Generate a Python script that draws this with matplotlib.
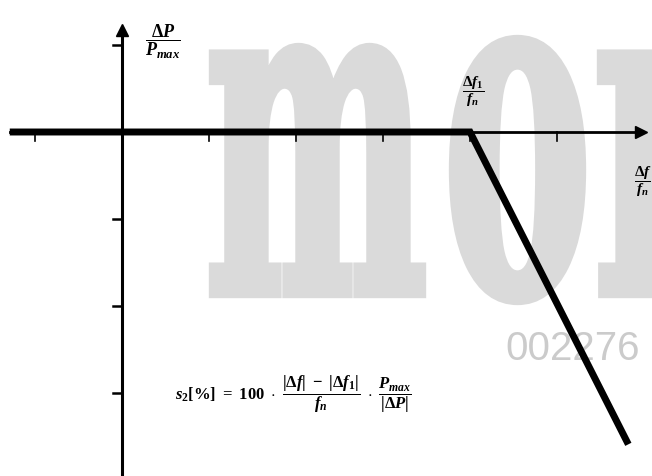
import matplotlib
matplotlib.use("Agg")
import matplotlib.pyplot as plt
from matplotlib.textpath import TextPath
from matplotlib.patches import PathPatch
from matplotlib.font_manager import FontProperties
from matplotlib.transforms import Affine2D

# Kennlinie: Leistungsaenderung ueber Frequenzabweichung (normiert)
kennlinie_x = [-1.29, 4.0, 5.82]
kennlinie_y = [0.0, 0.0, -3.59]
x_ticks = [-1, 1, 2, 3, 4, 5]
y_ticks = [1, -1, -2, -3]

plt.rcParams['mathtext.fontset'] = 'custom'
plt.rcParams['mathtext.rm'] = 'Liberation Serif:bold'
plt.rcParams['mathtext.it'] = 'Liberation Serif:italic:bold'
plt.rcParams['mathtext.bf'] = 'Liberation Serif:bold'

W, H = 652, 477
fig = plt.figure(figsize=(W / 100, H / 100), dpi=100)
ax = fig.add_axes([0, 0, 1, 1])
ax.patch.set_alpha(0)

# pixel -> data: Ursprung bei (122, 133), eine Einheit = 87 px
ox, oy, u = 122, 133, 87
ax.set_xlim(-ox / u, (W - ox) / u)
ax.set_ylim(-(H - oy) / u, oy / u)
ax.axis('off')

# Wasserzeichen (hinter allem)
fp = FontProperties(family='DejaVu Serif', weight='bold')
boxes = {'m': (213, 422, 48, 295), 'o': (453, 582, 40, 302), 'r': (601, 720, 48, 295)}
for ch, (x0, x1, ytop, ybot) in boxes.items():
    p = TextPath((0, 0), ch, size=1, prop=fp)
    ext = p.get_extents()
    sx = (x1 - x0) / ext.width
    sy = (ybot - ytop) / ext.height
    tr = (Affine2D().translate(-ext.x0, -ext.y0).scale(sx, sy)
          .translate(x0, H - ybot).scale(1 / 100) + fig.dpi_scale_trans)
    fig.patches.append(PathPatch(p, transform=tr, facecolor='#dadada',
                                 edgecolor='#dadada', lw=6, zorder=-2))
fig.text(505 / W, 1 - 360 / H, '002276', color='#cbcbcb', fontsize=29,
         family='Liberation Sans', va='baseline', ha='left', zorder=-1)

# Achsen mit Pfeilen
ax.plot([-1.29, 5.9], [0, 0], color='black', lw=2, zorder=2)
ax.plot([5.96], [0], marker='>', color='black', markersize=9, zorder=3)
ax.plot([0, 0], [-4.0, 1.12], color='black', lw=2.2, zorder=2)
ax.plot([0], [1.17], marker='^', color='black', markersize=9, zorder=3)

tick_len = 0.1
for t in x_ticks:
    ax.plot([t, t], [0, -tick_len], color='black', lw=1.2, zorder=2)
for t in y_ticks:
    ax.plot([-tick_len, 0], [t, t], color='black', lw=1.8, zorder=2)

# Kennlinie
ax.plot(kennlinie_x, kennlinie_y, color='black', lw=5,
        solid_capstyle='butt', solid_joinstyle='miter', zorder=4)

# Beschriftungen
ax.text(163 / W, 1 - 42 / H, r'$\dfrac{\Delta P}{P_{max}}$', transform=ax.transAxes,
        fontsize=13, ha='center', va='center')
ax.text(473 / W, 1 - 92 / H, r'$\dfrac{\Delta f_1}{f_n}$', transform=ax.transAxes,
        fontsize=11, ha='center', va='center')
ax.text(643 / W, 1 - 182 / H, r'$\dfrac{\Delta f}{f_n}$', transform=ax.transAxes,
        fontsize=11, ha='center', va='center')
ax.text(175 / W, 1 - 394 / H,
        r'$s_2[\%]\ =\ 100\ \cdot\ \dfrac{|\Delta f|\ -\ |\Delta f_1|}{f_n}\ \cdot\ \dfrac{P_{max}}{|\Delta P|}$',
        transform=ax.transAxes, fontsize=12, ha='left', va='center')

fig.savefig('out.png', dpi=100)
